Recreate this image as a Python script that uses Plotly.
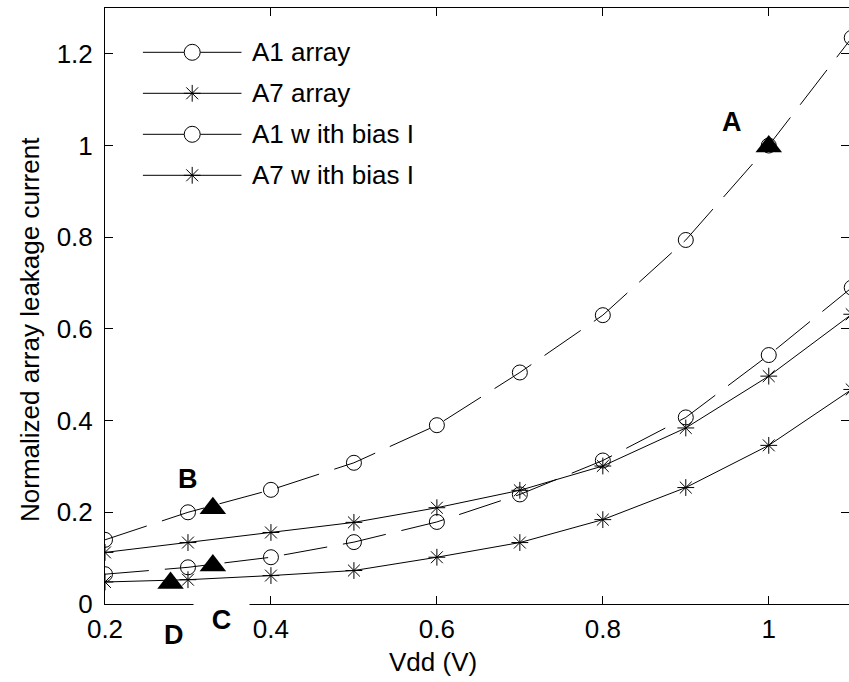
import plotly.graph_objects as go

# ---------------- data ----------------
vdd = [0.2, 0.3, 0.4, 0.5, 0.6, 0.7, 0.8, 0.9, 1.0, 1.1]
a1_array = [0.140, 0.200, 0.249, 0.308, 0.390, 0.505, 0.630, 0.794, 1.000, 1.235]
a7_array = [0.1125, 0.134, 0.156, 0.178, 0.210, 0.248, 0.301, 0.384, 0.497, 0.632]
a1_bias = [0.065, 0.080, 0.102, 0.135, 0.179, 0.239, 0.313, 0.407, 0.543, 0.690]
a7_bias = [0.048, 0.053, 0.062, 0.073, 0.102, 0.134, 0.184, 0.254, 0.346, 0.468]

point_names = ["A", "B", "C", "D"]
point_x = [1.0, 0.33, 0.33, 0.279]
point_y = [0.998, 0.209, 0.084, 0.046]

legend_names = ["A1 array", "A7 array", "A1 w ith bias I", "A7 w ith bias I"]

x_ticks = [0.2, 0.4, 0.6, 0.8, 1.0]
y_ticks = [0, 0.2, 0.4, 0.6, 0.8, 1.0, 1.2]

FONT = "Liberation Sans, Arial, sans-serif"
W, H = 849, 682
L, R, T, B = 105, 0, 8, 78
PW, PH = W - L - R, H - T - B


def px_x(px):
    return (px - L) / PW


def px_y(py):
    return (H - B - py) / PH


fig = go.Figure()

series = [
    (a1_array, "circle-open", "44px,16px", 15),
    (a7_array, "asterisk-open", "solid", 14),
    (a1_bias, "circle-open", "44px,16px", 15),
    (a7_bias, "asterisk-open", "solid", 14),
]
for vals, sym, dash, size in series:
    fig.add_trace(go.Scatter(
        x=vdd, y=vals, mode="lines+markers",
        line=dict(color="black", width=1, dash=dash),
        marker=dict(symbol=sym, size=size, color="black", line=dict(width=1, color="black")),
        showlegend=False, hoverinfo="skip",
    ))

fig.add_trace(go.Scatter(
    x=point_x, y=point_y, mode="markers",
    marker=dict(symbol="triangle-up", size=23, color="black"),
    showlegend=False, hoverinfo="skip",
))

# dummy trace for right-side mirrored ticks
fig.add_trace(go.Scatter(x=[0.2], y=[0], yaxis="y2", mode="markers",
                         marker=dict(opacity=0), showlegend=False, hoverinfo="skip"))

# ---------------- manual legend ----------------
legend_syms = ["circle", "asterisk-open", "circle", "asterisk-open"]
for i, (name, sym) in enumerate(zip(legend_names, legend_syms)):
    fig.add_trace(go.Scatter(x=[0, 1], y=[i, i], xaxis="x3", yaxis="y3", mode="lines",
                             line=dict(color="black", width=1), showlegend=False, hoverinfo="skip"))
    fig.add_trace(go.Scatter(x=[0.5], y=[i], xaxis="x3", yaxis="y3", mode="markers",
                             marker=dict(symbol=sym, size=16 if sym == "circle" else 14,
                                         color="white" if sym == "circle" else "black",
                                         line=dict(width=1, color="black")),
                             showlegend=False, hoverinfo="skip"))
    fig.add_annotation(x=1, y=i, xref="x3", yref="y3", text=name, showarrow=False,
                       xanchor="left", yanchor="middle", xshift=8,
                       font=dict(family=FONT, size=26, color="black"))

# ---------------- labels A-D ----------------
# (x value, y value, y pixel shift)
label_pos = {"A": (0.956, 1.052, 0), "B": (0.300, 0.2735, 0), "C": (0.341, 0.0, -16), "D": (0.2835, 0.0, -31)}
for name in point_names:
    lx, ly, ys = label_pos[name]
    kw = {}
    if name == "C":
        kw = dict(bgcolor="white", width=55, height=40, borderpad=0)
    fig.add_annotation(x=lx, y=ly, xref="x", yref="y", yshift=ys, text="<b>%s</b>" % name,
                       showarrow=False, xanchor="center", yanchor="middle",
                       font=dict(family=FONT, size=27, color="black"), **kw)

xmax = 0.2 + PW / 829.7

fig.update_layout(
    width=W, height=H, margin=dict(l=L, r=R, t=T, b=B),
    paper_bgcolor="white", plot_bgcolor="white",
    font=dict(family=FONT, size=26, color="black"),
    xaxis=dict(range=[0.2, xmax], tickvals=x_ticks, ticktext=["0.2", "0.4", "0.6", "0.8", "1"],
               ticks="inside", ticklen=8, tickcolor="black", showline=True, linecolor="black",
               linewidth=1, mirror="ticks", showgrid=False, zeroline=False,
               tickfont=dict(family=FONT, size=26), ticklabelstandoff=2),
    yaxis=dict(range=[0, 1.3], tickvals=y_ticks, ticktext=["0", "0.2", "0.4", "0.6", "0.8", "1", "1.2"],
               ticks="inside", ticklen=8, tickcolor="black", showline=True, linecolor="black",
               linewidth=1, showgrid=False, zeroline=False,
               tickfont=dict(family=FONT, size=26), ticklabelstandoff=6),
    yaxis2=dict(range=[0, 1.3], overlaying="y", side="right", tickvals=y_ticks, ticks="inside",
                ticklen=8, tickcolor="black", showline=False, showticklabels=False,
                showgrid=False, zeroline=False),
    xaxis3=dict(domain=[px_x(142.7), px_x(241.7)], range=[0, 1], visible=False, anchor="y3"),
    yaxis3=dict(domain=[px_y(195.8), px_y(31.8)], range=[3.5, -0.5], visible=False, anchor="x3"),
)

fig.add_annotation(x=px_x(433), y=px_y(662), xref="paper", yref="paper", text="Vdd (V)",
                   showarrow=False, xanchor="center", yanchor="middle",
                   font=dict(family=FONT, size=26, color="black"))
fig.add_annotation(x=px_x(30), y=px_y(330), xref="paper", yref="paper",
                   text="Normalized array leakage current", textangle=-90,
                   showarrow=False, xanchor="center", yanchor="middle",
                   font=dict(family=FONT, size=26, color="black"))

fig.write_html("out.html")
